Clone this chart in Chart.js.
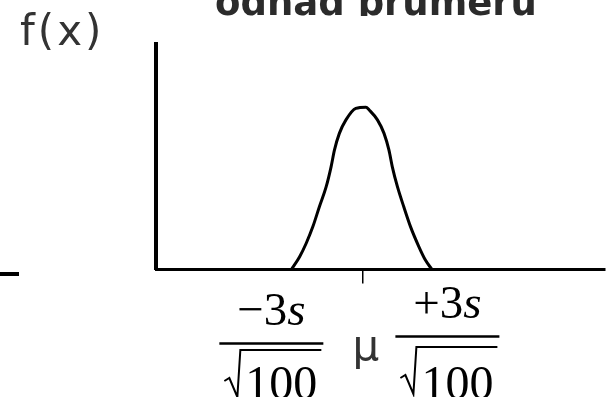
<!DOCTYPE html>
<html>
<head>
<meta charset="utf-8">
<script src="https://cdn.jsdelivr.net/npm/chart.js@4"></script>
<style>
  html, body { margin: 0; padding: 0; background: #fff; }
  #wrap { width: 608px; height: 397px; }
</style>
</head>
<body>
<div id="wrap"><canvas id="chart" width="608" height="397"></canvas></div>
<script>
const xValues = [-3.04, -2.69, -2.41, -2.13, -1.85, -1.56, -1.35, -1.21, -1.00, -0.72, -0.30, 0.13,
                 0.27, 0.62, 0.90, 1.11, 1.25, 1.47, 1.74, 2.03, 2.38, 2.66, 2.94];
const density = [0, 0.031, 0.064, 0.104, 0.153, 0.202, 0.251, 0.291, 0.332, 0.365, 0.393, 0.396,
                 0.389, 0.365, 0.332, 0.291, 0.251, 0.202, 0.153, 0.104, 0.056, 0.023, 0];
const meanTick = [0];

const titleText = 'odhad průměru';
const yLabel = 'f(x)';
const meanLabel = 'μ';

// labels under the axis: -3s/sqrt(100), mu, +3s/sqrt(100)
const labelsPlugin = {
  id: 'labels',
  afterDraw(chart) {
    const ctx = chart.ctx;
    const x = chart.scales.x;

    ctx.save();
    // title, only its lower part shows
    ctx.save();
    ctx.beginPath();
    ctx.rect(0, 0, 608, 16);
    ctx.clip();
    ctx.fillStyle = '#2b2b2b';
    ctx.font = 'bold 37px "DejaVu Sans"';
    ctx.textAlign = 'center';
    ctx.textBaseline = 'alphabetic';
    ctx.fillText(titleText, 376, 15);
    ctx.restore();

    // f(x)
    ctx.fillStyle = '#333';
    ctx.font = '42px "DejaVu Sans"';
    ctx.textAlign = 'left';
    ctx.letterSpacing = '3px';
    ctx.fillText(yLabel, 20, 45);
    ctx.letterSpacing = '0px';

    // short stroke on the left
    ctx.strokeStyle = '#000';
    ctx.lineWidth = 4;
    ctx.beginPath();
    ctx.moveTo(0, 274);
    ctx.lineTo(19, 274);
    ctx.stroke();

    // mu
    ctx.fillStyle = '#333';
    ctx.font = '42px "DejaVu Sans"';
    ctx.textAlign = 'center';
    ctx.fillText(meanLabel, x.getPixelForValue(0) + 3, 360);

    drawFraction(ctx, x.getPixelForValue(-3) - 21, 343.5, '−3', 350);
    drawFraction(ctx, x.getPixelForValue(3) + 14, 336.5, '+3', 347);
    ctx.restore();
  }
};

function drawFraction(ctx, cx, barY, num, rootY) {
  ctx.fillStyle = '#000';
  ctx.strokeStyle = '#000';
  // numerator: sign and 3 upright, s italic
  ctx.font = '47px "Liberation Serif"';
  const w1 = ctx.measureText(num).width;
  ctx.font = 'italic 47px "Liberation Serif"';
  const w2 = ctx.measureText('s').width;
  const left = cx - (w1 + w2) / 2;
  ctx.textAlign = 'left';
  ctx.font = '47px "Liberation Serif"';
  ctx.fillText(num, left, barY - 19);
  ctx.font = 'italic 47px "Liberation Serif"';
  ctx.fillText('s', left + w1, barY - 19);

  // fraction bar
  ctx.lineWidth = 2.5;
  ctx.beginPath();
  ctx.moveTo(cx - 52, barY);
  ctx.lineTo(cx + 52, barY);
  ctx.stroke();

  // square root sign
  ctx.lineWidth = 2;
  ctx.beginPath();
  ctx.moveTo(cx - 47, rootY + 31);
  ctx.lineTo(cx - 42, rootY + 28);
  ctx.lineTo(cx - 34, rootY + 47);
  ctx.lineTo(cx - 31, rootY);
  ctx.lineTo(cx + 50, rootY);
  ctx.stroke();

  ctx.font = '48px "Liberation Serif"';
  ctx.textAlign = 'left';
  ctx.fillText('100', cx - 26, 399);
}

new Chart(document.getElementById('chart').getContext('2d'), {
  type: 'line',
  data: {
    datasets: [{
      data: xValues.map((v, i) => ({ x: v, y: density[i] })),
      borderColor: '#000',
      borderWidth: 3,
      pointRadius: 0,
      fill: false,
      cubicInterpolationMode: 'monotone'
    }]
  },
  options: {
    responsive: false,
    animation: false,
    layout: { padding: { left: 148, right: 3, top: 44, bottom: 113.5 } },
    plugins: { legend: { display: false }, tooltip: { enabled: false }, title: { display: false } },
    scales: {
      x: {
        type: 'linear',
        min: -8.8,
        max: 10.3,
        afterBuildTicks: axis => { axis.ticks = meanTick.map(v => ({ value: v })); },
        ticks: { display: false },
        grid: { drawOnChartArea: false, drawTicks: true, tickLength: 14, color: '#000', lineWidth: 1.5 },
        border: { display: true, color: '#000', width: 3 }
      },
      y: {
        min: 0,
        max: 0.55,
        ticks: { display: false },
        grid: { display: false },
        border: { display: true, color: '#000', width: 4 }
      }
    }
  },
  plugins: [labelsPlugin]
});
</script>
</body>
</html>
